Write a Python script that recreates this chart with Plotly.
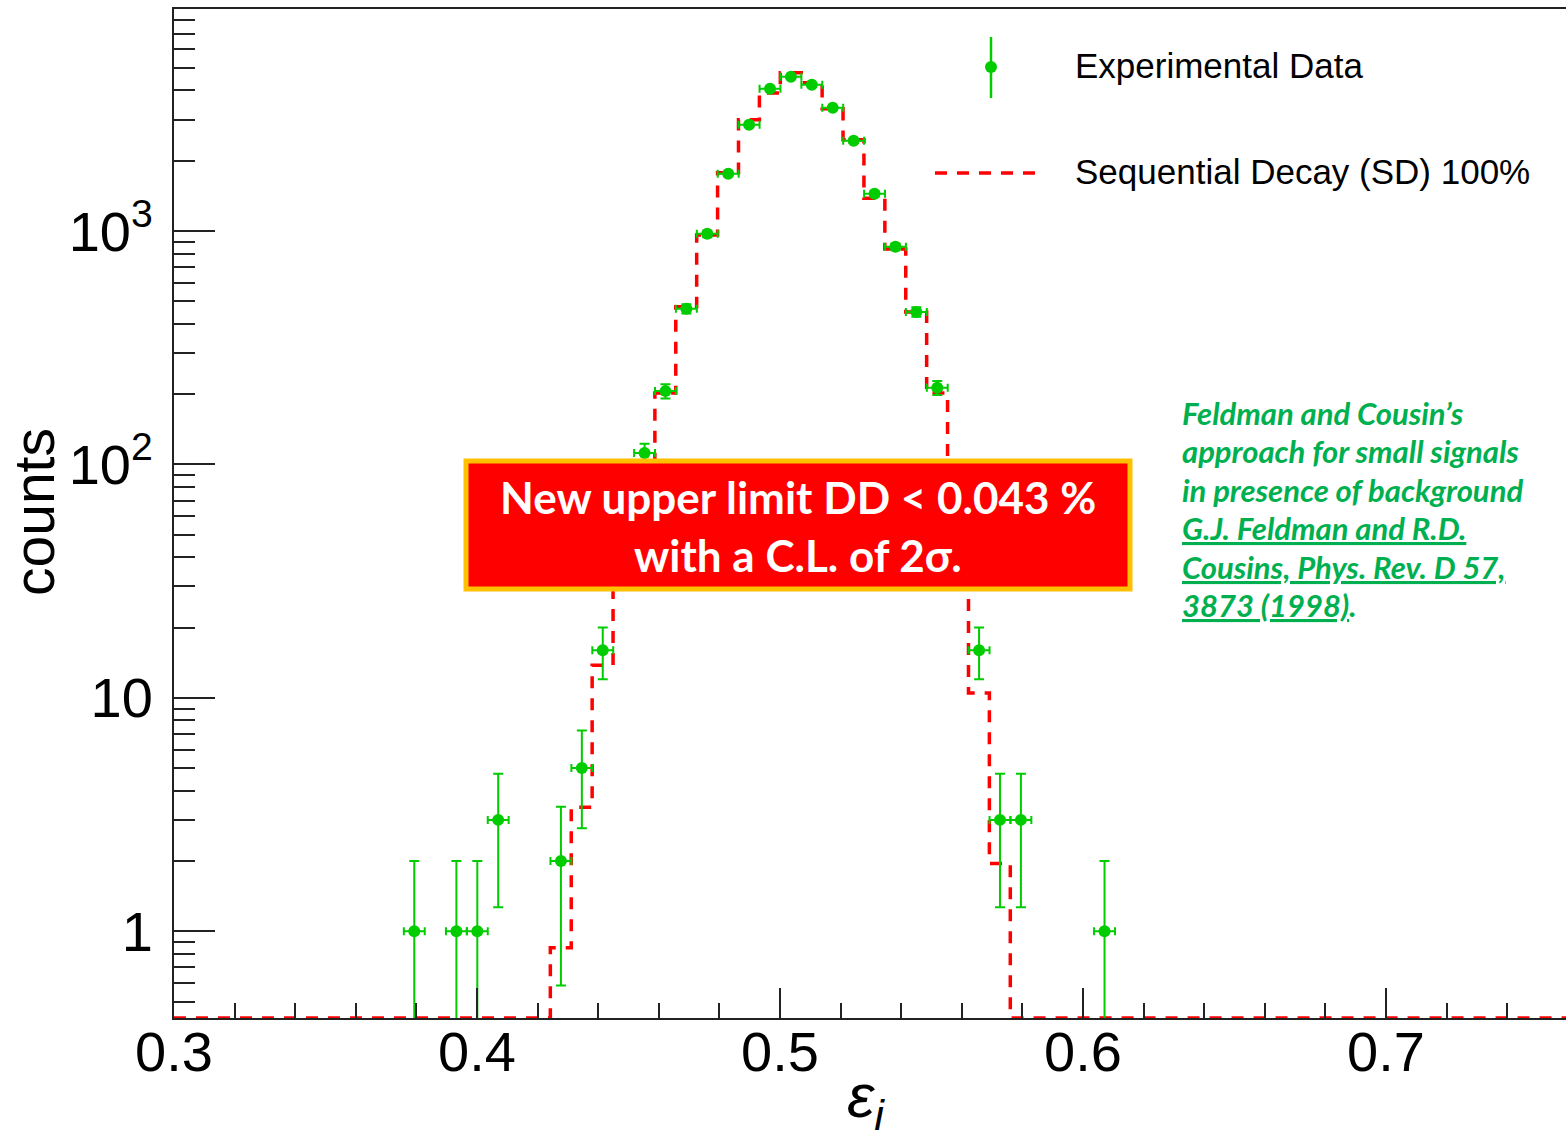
import math
import plotly.graph_objects as go

# ---- data -------------------------------------------------------------
# Measured histogram (bin centres, counts); hidden bins lie under the text box
data_x = [0.3793, 0.3932, 0.4001, 0.4070, 0.4277, 0.4346, 0.4415, 0.4484,
          0.4553, 0.4622, 0.4691, 0.4760, 0.4829, 0.4898, 0.4967, 0.5036,
          0.5105, 0.5174, 0.5243, 0.5312, 0.5381, 0.5450, 0.5519, 0.5588,
          0.5657, 0.5726, 0.5795, 0.6071]
data_counts = [1, 1, 1, 3, 2, 5, 16, 45,
               112, 206, 464, 972, 1757, 2850, 4064, 4575,
               4227, 3372, 2432, 1442, 855, 450, 213, 55,
               16, 3, 3, 1]
bin_width = 0.0069

# Sequential-decay simulation (bin low edges + last upper edge, contents)
sd_edges = [0.4242, 0.4311, 0.4380, 0.4449, 0.4518, 0.4587, 0.4656, 0.4725,
            0.4794, 0.4863, 0.4932, 0.5001, 0.5070, 0.5139, 0.5208, 0.5277,
            0.5346, 0.5415, 0.5484, 0.5553, 0.5622, 0.5691, 0.5760]
sd_counts = [0.85, 3.4, 13.8, 45, 100, 202, 473, 960,
             1774, 2994, 3900, 4760, 4310, 3338, 2457, 1380,
             838, 450, 202, 50, 10.5, 1.95]

x_ticks = [0.3, 0.4, 0.5, 0.6, 0.7]
y_ticks = [1, 10, 100, 1000]
y_tick_text = ["1", "10", "10<sup>2</sup>", "10<sup>3</sup>"]

X_MIN, X_MAX = 0.3, 0.7594
Y_MIN, Y_MAX = 0.425, 8930.0

GREEN = "#00cc00"
RED = "#ff0000"
AX_FONT = "Liberation Sans, Arial, Helvetica, sans-serif"

# ---- page geometry (pixels) --------------------------------------------
W, H = 1566, 1133
ML, MR, MT, MB = 174, 0, 9, 115
PW, PH = W - ML - MR, H - MT - MB


def xp(px):
    return (px - ML) / PW


def yp(py):
    return (H - MB - py) / PH


fig = go.Figure()

# Simulation drawn as a dashed step line; empty bins sit on the frame floor
floor = Y_MIN
step_x = [X_MIN] + sd_edges + [X_MAX]
step_y = [floor] + sd_counts + [floor, floor]
fig.add_trace(go.Scatter(
    x=step_x, y=step_y, mode="lines", line_shape="hv",
    line=dict(color=RED, width=3.5, dash="12px,10px"),
    showlegend=False, hoverinfo="skip"))

# Data points with Poisson errors and half-bin horizontal errors
err_up = [math.sqrt(n) for n in data_counts]
err_dn = [min(math.sqrt(n), n * 0.999) for n in data_counts]
fig.add_trace(go.Scatter(
    x=data_x, y=data_counts, mode="markers",
    marker=dict(size=12, color=GREEN, line=dict(width=0)),
    error_y=dict(type="data", array=err_up, arrayminus=err_dn,
                 color=GREEN, thickness=2, width=5),
    error_x=dict(type="constant", value=bin_width / 2,
                 color=GREEN, thickness=2, width=4),
    showlegend=False, hoverinfo="skip"))

minor_y = []
for dec in [0.1, 1, 10, 100, 1000]:
    for d in range(2, 10):
        v = d * dec
        if Y_MIN <= v <= Y_MAX:
            minor_y.append(v)

fig.update_layout(
    width=W, height=H,
    margin=dict(l=ML, r=MR, t=MT, b=MB, pad=0),
    paper_bgcolor="white", plot_bgcolor="white",
    showlegend=False,
    xaxis=dict(
        range=[X_MIN, X_MAX], tickvals=x_ticks,
        ticktext=[f"{v:.1f}" for v in x_ticks],
        ticks="inside", ticklen=30, tickwidth=1.6, tickcolor="#222",
        minor=dict(dtick=0.02, tick0=0.3, ticks="inside", ticklen=15,
                   tickwidth=1.6, tickcolor="#222", showgrid=False),
        showline=True, linecolor="#222", linewidth=2, mirror=True,
        showgrid=False, zeroline=False,
        tickfont=dict(family=AX_FONT, size=56, color="black"),
        ticklabelstandoff=-16),
    yaxis=dict(
        type="log", range=[math.log10(Y_MIN), math.log10(Y_MAX)],
        tickvals=y_ticks, ticktext=y_tick_text,
        ticks="inside", ticklen=41, tickwidth=1.6, tickcolor="#222",
        minor=dict(tickvals=minor_y, ticks="inside", ticklen=21,
                   tickwidth=1.6, tickcolor="#222", showgrid=False),
        showline=True, linecolor="#222", linewidth=2, mirror=False,
        showgrid=False, zeroline=False,
        tickfont=dict(family=AX_FONT, size=56, color="black"),
        ticklabelstandoff=8),
)

shapes = []
# Result box
shapes.append(dict(type="rect", xref="paper", yref="paper", layer="above",
                   x0=xp(466), x1=xp(1130), y0=yp(589), y1=yp(461),
                   fillcolor=RED, line=dict(color="#ffc000", width=5)))
# Legend glyphs
shapes.append(dict(type="line", xref="paper", yref="paper", layer="above",
                   x0=xp(991), x1=xp(991), y0=yp(37), y1=yp(98),
                   line=dict(color=GREEN, width=2.5)))
shapes.append(dict(type="circle", xref="paper", yref="paper", layer="above",
                   xsizemode="pixel", ysizemode="pixel",
                   xanchor=xp(991), yanchor=yp(67), x0=-6, x1=6, y0=-6, y1=6,
                   fillcolor=GREEN, line=dict(width=0)))
shapes.append(dict(type="line", xref="paper", yref="paper", layer="above",
                   x0=xp(935), x1=xp(1040), y0=yp(173), y1=yp(173),
                   line=dict(color=RED, width=3.5, dash="12px,10px")))
fig.update_layout(shapes=shapes)

ann = []
ann.append(dict(text="Experimental Data", x=xp(1073), y=yp(66),
                font=dict(family=AX_FONT, size=35, color="black")))
ann.append(dict(text="Sequential Decay (SD) 100%", x=xp(1073), y=yp(171),
                font=dict(family=AX_FONT, size=35, color="black")))
for a in ann:
    a.update(xref="paper", yref="paper", xanchor="left", yanchor="middle",
             showarrow=False)

BOX_FONT = "Lato, Open Sans, sans-serif"
for txt, py in [("<b>New upper limit DD &lt; 0.043 %</b>", 497),
                ("<b>with a C.L. of 2σ.</b>", 555)]:
    ann.append(dict(text=txt, x=xp(798), y=yp(py), xref="paper", yref="paper",
                    xanchor="center", yanchor="middle", showarrow=False,
                    font=dict(family=BOX_FONT, size=44, color="white")))

NOTE_GREEN = "#00b050"
note_lines = [
    "<b><i>Feldman and Cousin’s</i></b>",
    "<b><i>approach for small signals</i></b>",
    "<b><i>in presence of background</i></b>",
    "<b><i><u>G.J. Feldman and R.D.</u></i></b>",
    "<b><i><u>Cousins, Phys. Rev. D 57,</u></i></b>",
    "<b><i><u>3873 (1998)</u>.</i></b>",
]
for i, line in enumerate(note_lines):
    ann.append(dict(text=line, x=xp(1180), y=yp(413 + i * 38.4),
                    xref="paper", yref="paper", xanchor="left",
                    yanchor="middle", showarrow=False,
                    font=dict(family=BOX_FONT, size=31, color=NOTE_GREEN)))

# Axis titles
ann.append(dict(text="counts", x=xp(34), y=yp(512), xref="paper", yref="paper",
                xanchor="center", yanchor="middle", textangle=-90,
                showarrow=False,
                font=dict(family=AX_FONT, size=57, color="black")))
ann.append(dict(text="<i>ε</i><sub><i>i</i></sub>", x=xp(866), y=yp(1100),
                xref="paper", yref="paper", xanchor="center",
                yanchor="middle", showarrow=False,
                font=dict(family=AX_FONT, size=62, color="black")))
fig.update_layout(annotations=ann)

fig.write_html("out.html")
